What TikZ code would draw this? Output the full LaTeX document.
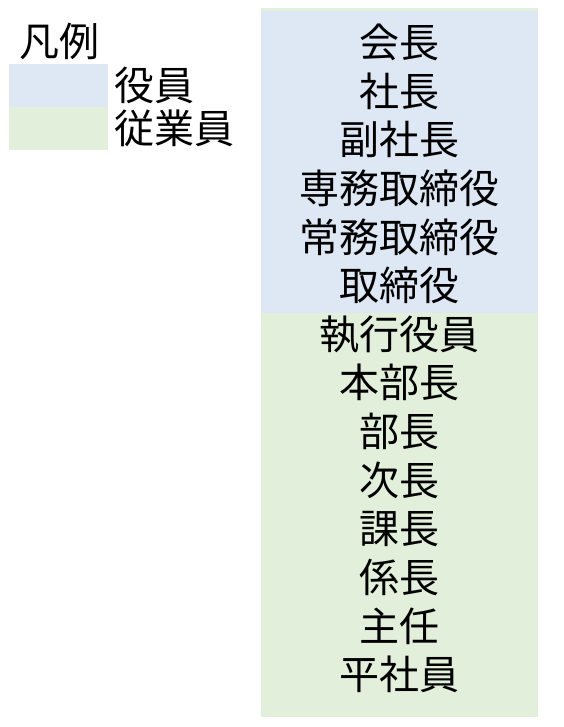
\documentclass[tikz,border=0pt]{standalone}
\usepackage{fontspec}
\usetikzlibrary{positioning}
\newfontfamily\jpfont{Noto Sans CJK JP}
\definecolor{yakuin}{HTML}{DDE8F4}
\definecolor{jugyoin}{HTML}{E2EFDA}
\begin{document}
\begin{tikzpicture}[
    x=1pt,y=-1pt,
    font=\jpfont\fontsize{40}{40}\selectfont,
    rank/.style={inner sep=0pt,text depth=0pt},
    legbox/.style={inner sep=0pt,minimum width=99pt,minimum height=43pt},
    leglab/.style={anchor=west,inner sep=0pt}
]
\useasboundingbox (0,0) rectangle (563,727);

% legend
\node[leglab] (legtitle) at (19,41) {凡例};
\node[legbox,fill=yakuin] (legyk) at (58.5,85.5) {};
\node[legbox,fill=jugyoin] (legjg) at (58.5,128.5) {};
\node[leglab,right=6pt of legyk.east] (legyklab) {役員};
\node[leglab,right=6pt of legjg.east] (legjglab) {従業員};

% column
\fill[jugyoin] (261,8) rectangle (538,717);
\fill[yakuin] (261,11) rectangle (538,313);

\foreach \name [count=\i] in {会長,社長,副社長,専務取締役,常務取締役,取締役,%
    執行役員,本部長,部長,次長,課長,係長,主任,平社員} {
    \node[rank] (rank\i) at (399.5,{41+48.6*(\i-1)}) {\name};
}
\end{tikzpicture}
\end{document}
